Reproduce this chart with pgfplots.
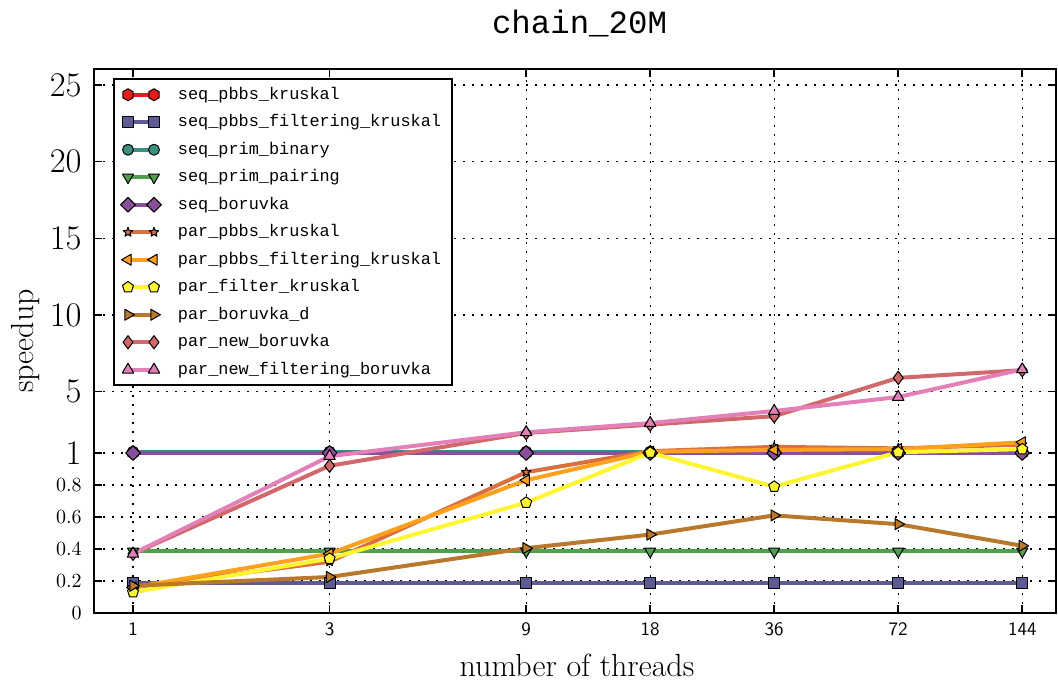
\documentclass[border=0pt]{standalone}
\usepackage{pgfplots}
\pgfplotsset{compat=1.18}
\usepackage{pgfplotstable}
\usepackage{fontspec}
\newfontfamily\monofont{Liberation Mono}

\definecolor{cRed}{HTML}{E41A1C}
\definecolor{cSlate}{HTML}{5E5A94}
\definecolor{cTeal}{HTML}{3A8F80}
\definecolor{cGreen}{HTML}{51A051}
\definecolor{cPurple}{HTML}{8A4F9A}
\definecolor{cRust}{HTML}{D8703F}
\definecolor{cOrange}{HTML}{FFA11C}
\definecolor{cYellow}{HTML}{FFF533}
\definecolor{cBrown}{HTML}{B8792C}
\definecolor{cRose}{HTML}{D0686C}
\definecolor{cPink}{HTML}{E480B8}

% filled hexagon and filled five-point star markers
\pgfdeclareplotmark{hexagon*}{%
  \pgfpathmoveto{\pgfpointpolar{90}{\pgfplotmarksize}}%
  \pgfpathlineto{\pgfpointpolar{150}{\pgfplotmarksize}}%
  \pgfpathlineto{\pgfpointpolar{210}{\pgfplotmarksize}}%
  \pgfpathlineto{\pgfpointpolar{270}{\pgfplotmarksize}}%
  \pgfpathlineto{\pgfpointpolar{330}{\pgfplotmarksize}}%
  \pgfpathlineto{\pgfpointpolar{30}{\pgfplotmarksize}}%
  \pgfpathclose
  \pgfusepathqfillstroke}
\pgfdeclareplotmark{fstar}{%
  \pgfpathmoveto{\pgfpointpolar{90}{\pgfplotmarksize}}%
  \pgfpathlineto{\pgfpointpolar{126}{0.42\pgfplotmarksize}}%
  \pgfpathlineto{\pgfpointpolar{162}{\pgfplotmarksize}}%
  \pgfpathlineto{\pgfpointpolar{198}{0.42\pgfplotmarksize}}%
  \pgfpathlineto{\pgfpointpolar{234}{\pgfplotmarksize}}%
  \pgfpathlineto{\pgfpointpolar{270}{0.42\pgfplotmarksize}}%
  \pgfpathlineto{\pgfpointpolar{306}{\pgfplotmarksize}}%
  \pgfpathlineto{\pgfpointpolar{342}{0.42\pgfplotmarksize}}%
  \pgfpathlineto{\pgfpointpolar{18}{\pgfplotmarksize}}%
  \pgfpathlineto{\pgfpointpolar{54}{0.42\pgfplotmarksize}}%
  \pgfpathclose
  \pgfusepathqfillstroke}

% speedup relative to seq_pbbs_kruskal
\pgfplotstableread{
t    spk   spfk  spb   spp    sb    ppk   ppfk  pfk   pbd    pnb   pnfb
1    1.00  0.19  1.08  0.385  1.00  0.16  0.16  0.13  0.17   0.37  0.37
3    1.00  0.19  1.08  0.385  1.00  0.32  0.37  0.34  0.225  0.92  0.98
9    1.00  0.19  1.08  0.385  1.00  0.88  0.83  0.69  0.405  2.30  2.35
18   1.00  0.19  1.08  0.385  1.00  1.12  1.08  1.02  0.49   2.85  2.95
36   1.00  0.19  1.08  0.385  1.00  1.40  1.20  0.79  0.61   3.40  3.74
72   1.00  0.19  1.08  0.385  1.00  1.30  1.25  1.05  0.555  5.90  4.65
144  1.00  0.19  1.08  0.385  1.00  1.55  1.70  1.25  0.42   6.40  6.45
}\speedups

% piecewise-linear speedup axis: [0,1] stretched, above 1 compressed
\newcommand\ks{0.09583}
\newcommand\sy[1]{min(\thisrow{#1},1)+max(\thisrow{#1}-1,0)*\ks}
\newcommand\smt[1]{{\fontsize{10}{11}\selectfont$#1$}}
\newcommand\lgt[1]{{\fontsize{16.5}{18}\selectfont$#1$}}

\pgfplotsset{
  ser/.style n args={3}{color=#1, line width=2pt, line join=round,
    mark=#2, mark size=#3,
    mark options={solid, draw=black, fill=#1, line width=0.5pt}},
}

\begin{document}
\begin{tikzpicture}
\begin{axis}[
  name=ax,
  scale only axis, width=481pt, height=272pt,
  xmode=log, log basis x=2,
  xmin=0.804, xmax=173.9, ymin=0, ymax=3.4,
  xtick={1,3,9,18,36,72,144},
  xticklabels={1,3,9,18,36,72,144},
  xminorticks=false, yminorticks=false,
  ytick={0,0.2,0.4,0.6,0.8,1,1.3833,1.8625,2.3417,2.8208,3.3},
  yticklabels={\smt{0},\smt{0.2},\smt{0.4},\smt{0.6},\smt{0.8},\lgt{1},\lgt{5},\lgt{10},\lgt{15},\lgt{20},\lgt{25}},
  tick align=inside, tick pos=both,
  xticklabel pos=lower, yticklabel pos=left,
  major tick length=4pt,
  every tick/.style={black, line width=0.8pt},
  axis line style={line width=1.4pt},
  grid=major,
  major grid style={black, line width=0.6pt, dash pattern=on 1.2pt off 3.3pt},
  xticklabel style={font={\fontsize{9.5}{10}\selectfont\sffamily}, inner sep=0pt, anchor=north, yshift=-4.5pt},
  yticklabel style={inner sep=0pt, anchor=east, xshift=-6pt},
  every axis title shift=0pt,
  title={chain\_20M},
  title style={font={\monofont\fontsize{16.2}{18}\selectfont}, at={(axis description cs:0.5,1)}, anchor=base, yshift=17.5pt, xshift=2.25pt},
  xlabel={number of threads},
  xlabel style={font={\fontsize{16}{18}\selectfont}, at={(axis description cs:0.5,0)}, anchor=base, yshift=-32pt, xshift=1pt},
  ylabel={speedup},
  ylabel style={font={\fontsize{16}{18}\selectfont}, at={(axis description cs:-0.0624,0.5)}, anchor=base},
  legend cell align=left,
  legend image code/.code={\draw[#1] plot coordinates {(0pt,0pt) (13pt,0pt)}; \path (24pt,0pt);},
  legend style={at={(axis description cs:0,1)}, anchor=north west, xshift=9.5pt, yshift=-4.5pt,
    draw=black, line width=1pt, fill=white, inner xsep=3.3pt, inner ysep=1pt, row sep=0pt,
    font={\monofont\fontsize{8.43}{10}\selectfont},
    nodes={inner sep=0pt, minimum height=13.75pt, text width=133.7pt, align=left}},
]
\addplot[ser={cRed}{hexagon*}{3pt}] table[x=t, y expr={\sy{spk}}] {\speedups};
\addlegendentry{seq\_pbbs\_kruskal}
\addplot[ser={cSlate}{square*}{2.75pt}] table[x=t, y expr={\sy{spfk}}] {\speedups};
\addlegendentry{seq\_pbbs\_filtering\_kruskal}
\addplot[ser={cTeal}{*}{2.75pt}] table[x=t, y expr={\sy{spb}}] {\speedups};
\addlegendentry{seq\_prim\_binary}
\addplot[ser={cGreen}{triangle*}{3.2pt}, every mark/.append style={rotate=180}] table[x=t, y expr={\sy{spp}}] {\speedups};
\addlegendentry{seq\_prim\_pairing}
\addplot[ser={cPurple}{diamond*}{3.7pt}, every mark/.append style={xscale=1.333}] table[x=t, y expr={\sy{sb}}] {\speedups};
\addlegendentry{seq\_boruvka}
\addplot[ser={cRust}{fstar}{2.5pt}] table[x=t, y expr={\sy{ppk}}] {\speedups};
\addlegendentry{par\_pbbs\_kruskal}
\addplot[ser={cOrange}{triangle*}{3.2pt}, every mark/.append style={rotate=90}] table[x=t, y expr={\sy{ppfk}}] {\speedups};
\addlegendentry{par\_pbbs\_filtering\_kruskal}
\addplot[ser={cYellow}{pentagon*}{2.9pt}] table[x=t, y expr={\sy{pfk}}] {\speedups};
\addlegendentry{par\_filter\_kruskal}
\addplot[ser={cBrown}{triangle*}{3.2pt}, every mark/.append style={rotate=-90}] table[x=t, y expr={\sy{pbd}}] {\speedups};
\addlegendentry{par\_boruvka\_d}
\addplot[ser={cRose}{diamond*}{3.3pt}] table[x=t, y expr={\sy{pnb}}] {\speedups};
\addlegendentry{par\_new\_boruvka}
\addplot[ser={cPink}{triangle*}{3.3pt}] table[x=t, y expr={\sy{pnfb}}] {\speedups};
\addlegendentry{par\_new\_filtering\_boruvka}
\end{axis}
\pgfresetboundingbox
\path[use as bounding box] ([shift={(-47pt,-36.5pt)}]ax.south west) rectangle ([shift={(1pt,34.5pt)}]ax.north east);
\end{tikzpicture}
\end{document}
